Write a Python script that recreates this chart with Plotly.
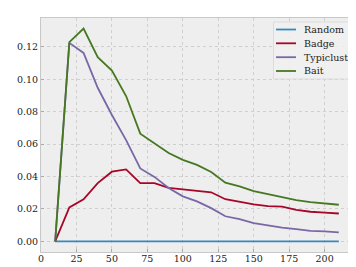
import plotly.graph_objects as go

x = [10, 20, 30, 40, 50, 60, 70, 80, 90, 100, 110, 120, 130, 140, 150, 160, 170, 180, 190, 200, 210]
random_v = [0.0] * 21
badge = [0.0, 0.021, 0.026, 0.036, 0.043, 0.0444, 0.036, 0.036, 0.033, 0.032, 0.031, 0.0303, 0.026, 0.0245, 0.0228, 0.0218, 0.0215, 0.0195, 0.0183, 0.0178, 0.0172]
typiclust = [0.0, 0.1225, 0.1163, 0.0948, 0.078, 0.0625, 0.045, 0.0398, 0.033, 0.0278, 0.0247, 0.0205, 0.0155, 0.0137, 0.0112, 0.0097, 0.0085, 0.0075, 0.0065, 0.0062, 0.0055]
bait = [0.0, 0.123, 0.1313, 0.1137, 0.1054, 0.0897, 0.0665, 0.0605, 0.0545, 0.0503, 0.0472, 0.0428, 0.0362, 0.034, 0.031, 0.0292, 0.0272, 0.0255, 0.0242, 0.0234, 0.0226]
names = ["Random", "Badge", "Typiclust", "Bait"]
colors = ["#348ABD", "#A60628", "#7A68A6", "#467821"]

W, H = 356, 267
ML, MR, MT, MB = 33, 11, 10, 23
PW, PH = W - ML - MR, H - MT - MB

def px_x(p):
    return (p - ML) / PW

def px_y(p):
    return (H - MB - p) / PH

fig = go.Figure()
for n, ys, c in zip(names, [random_v, badge, typiclust, bait], colors):
    fig.add_trace(go.Scatter(x=x, y=ys, mode="lines", name=n, line=dict(color=c, width=1.8),
                             showlegend=False))

font = dict(family="DejaVu Serif", size=9.5, color="#222222")

# manual compact legend (matplotlib-like spacing)
shapes = [dict(type="rect", xref="paper", yref="paper",
               x0=px_x(265.5), x1=px_x(342), y0=px_y(71), y1=px_y(14),
               fillcolor="rgba(240,240,240,0.85)", line=dict(color="#dcdcdc", width=1), layer="above")]
annotations = []
rows = [21.5, 35.3, 49.2, 63.0]
for n, c, ry in zip(names, colors, rows):
    shapes.append(dict(type="line", xref="paper", yref="paper",
                       x0=px_x(268), x1=px_x(288), y0=px_y(ry), y1=px_y(ry),
                       line=dict(color=c, width=1.8), layer="above"))
    annotations.append(dict(xref="paper", yref="paper", x=px_x(294), y=px_y(ry),
                            xanchor="left", yanchor="middle", text=n, showarrow=False,
                            font=font))

axis_common = dict(showgrid=True, gridcolor="#cfcfcf", griddash="dot", gridwidth=1,
                   zeroline=False, showline=True, linecolor="#c8c8c8", linewidth=1, mirror=True,
                   ticks="inside", ticklen=3, tickcolor="#aaaaaa", automargin=False)
fig.update_layout(
    width=W, height=H,
    margin=dict(l=ML, r=MR, t=MT, b=MB),
    paper_bgcolor="white", plot_bgcolor="#eeeeee",
    font=font,
    showlegend=False,
    shapes=shapes,
    annotations=annotations,
    xaxis=dict(range=[0, 220], tickvals=[0, 25, 50, 75, 100, 125, 150, 175, 200],
               ticklabelstandoff=-2, **axis_common),
    yaxis=dict(range=[-0.00655, 0.13785], tickvals=[0, 0.02, 0.04, 0.06, 0.08, 0.10, 0.12],
               tickformat=".2f", **axis_common),
)
fig.write_html("out.html")
